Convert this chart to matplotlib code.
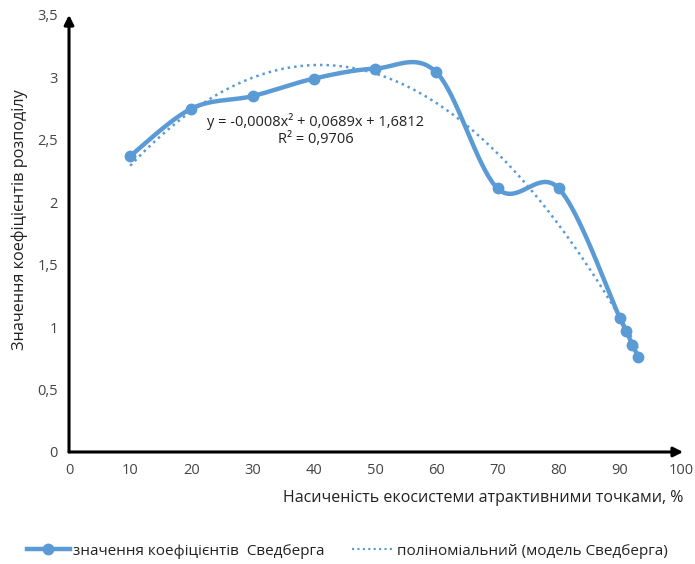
import numpy as np
import matplotlib.pyplot as plt

# saturation of ecosystem with attractive points, %
x_vals = [10, 20, 30, 40, 50, 60, 70, 80, 90, 91, 92, 93]
# Svedberg coefficients
y_vals = [2.37, 2.75, 2.85, 2.99, 3.07, 3.04, 2.11, 2.11, 1.07, 0.97, 0.86, 0.76]

x_ticks = [0, 10, 20, 30, 40, 50, 60, 70, 80, 90, 100]
y_ticks = [0, 0.5, 1, 1.5, 2, 2.5, 3, 3.5]
y_tick_labels = ['0', '0,5', '1', '1,5', '2', '2,5', '3', '3,5']

eq_text = 'y = -0,0008x² + 0,0689x + 1,6812\nR² = 0,9706'
series_label = 'значення коефіцієнтів  Сведберга'
trend_label = 'поліноміальний (модель Сведберга)'

blue = '#5B9BD5'
plt.rcParams['font.family'] = ['Open Sans', 'DejaVu Sans']


def smooth_curve(xs, ys, n=40):
    # catmull-rom style bezier, like the "smoothed line" option in spreadsheets
    xs = np.asarray(xs, float)
    ys = np.asarray(ys, float)
    px = np.concatenate([[xs[0]], xs, [xs[-1]]])
    py = np.concatenate([[ys[0]], ys, [ys[-1]]])
    out_x, out_y = [], []
    t = np.linspace(0, 1, n)
    for i in range(1, len(px) - 2):
        p0 = np.array([px[i], py[i]])
        p3 = np.array([px[i + 1], py[i + 1]])
        c1 = p0 + (np.array([px[i + 1], py[i + 1]]) - np.array([px[i - 1], py[i - 1]])) / 6
        c2 = p3 - (np.array([px[i + 2], py[i + 2]]) - np.array([px[i], py[i]])) / 6
        b = ((1 - t) ** 3)[:, None] * p0 + (3 * (1 - t) ** 2 * t)[:, None] * c1 \
            + (3 * (1 - t) * t ** 2)[:, None] * c2 + (t ** 3)[:, None] * p3
        out_x.extend(b[:, 0])
        out_y.extend(b[:, 1])
    return np.array(out_x), np.array(out_y)


fig = plt.figure(figsize=(6.95, 5.64), dpi=100)
ax = fig.add_axes([0.0993, 0.1986, 0.881, 0.775])

sx, sy = smooth_curve(x_vals, y_vals)
ax.plot(sx, sy, color=blue, lw=3.2, solid_capstyle='round', zorder=3)
ax.plot(x_vals, y_vals, 'o', color=blue, ms=7.5, zorder=4)

coef = np.polyfit(x_vals, y_vals, 2)
tx = np.linspace(x_vals[0], x_vals[-1], 200)
ax.plot(tx, np.polyval(coef, tx), color=blue, lw=1.8, linestyle=(0, (1, 1.6)), zorder=2)

ax.text(40.3, 2.58, eq_text, ha='center', va='center', fontsize=10.5,
        color='#222222', linespacing=1.15)

ax.set_xlim(0, 100)
ax.set_ylim(0, 3.5)
ax.set_xticks(x_ticks)
ax.set_yticks(y_ticks)
ax.set_yticklabels(y_tick_labels)
ax.tick_params(length=0, labelsize=10.5, labelcolor='#444444', pad=8)
for s in ax.spines.values():
    s.set_visible(False)

# axes drawn as arrows
arrow = dict(arrowstyle='-|>', color='black', lw=2.2, mutation_scale=14, shrinkA=0, shrinkB=0)
ax.annotate('', xy=(0, 1.0), xytext=(0, 0), xycoords='axes fraction', arrowprops=arrow)
ax.annotate('', xy=(1.003, 0), xytext=(0, 0), xycoords='axes fraction', arrowprops=arrow)

fig.text(0.983, 0.117, 'Насиченість екосистеми атрактивними точками, %', ha='right',
         va='center', fontsize=11.5, color='#222222')
fig.text(0.028, 0.61, 'Значення коефіцієнтів розподілу', rotation=90, ha='center',
         va='center', fontsize=11.7, color='#222222')

h1, = ax.plot([], [], color=blue, lw=3.2, marker='o', ms=7.5)
h2, = ax.plot([], [], color=blue, lw=1.5, linestyle=(0, (1, 1.6)))
fig.legend([h1, h2], [series_label, trend_label], loc='center', bbox_to_anchor=(0.5, 0.023),
           ncol=2, frameon=False, fontsize=11, handlelength=2.8, columnspacing=1.8,
           handletextpad=0.2, labelcolor='#222222')

fig.savefig('out.png', dpi=100)
